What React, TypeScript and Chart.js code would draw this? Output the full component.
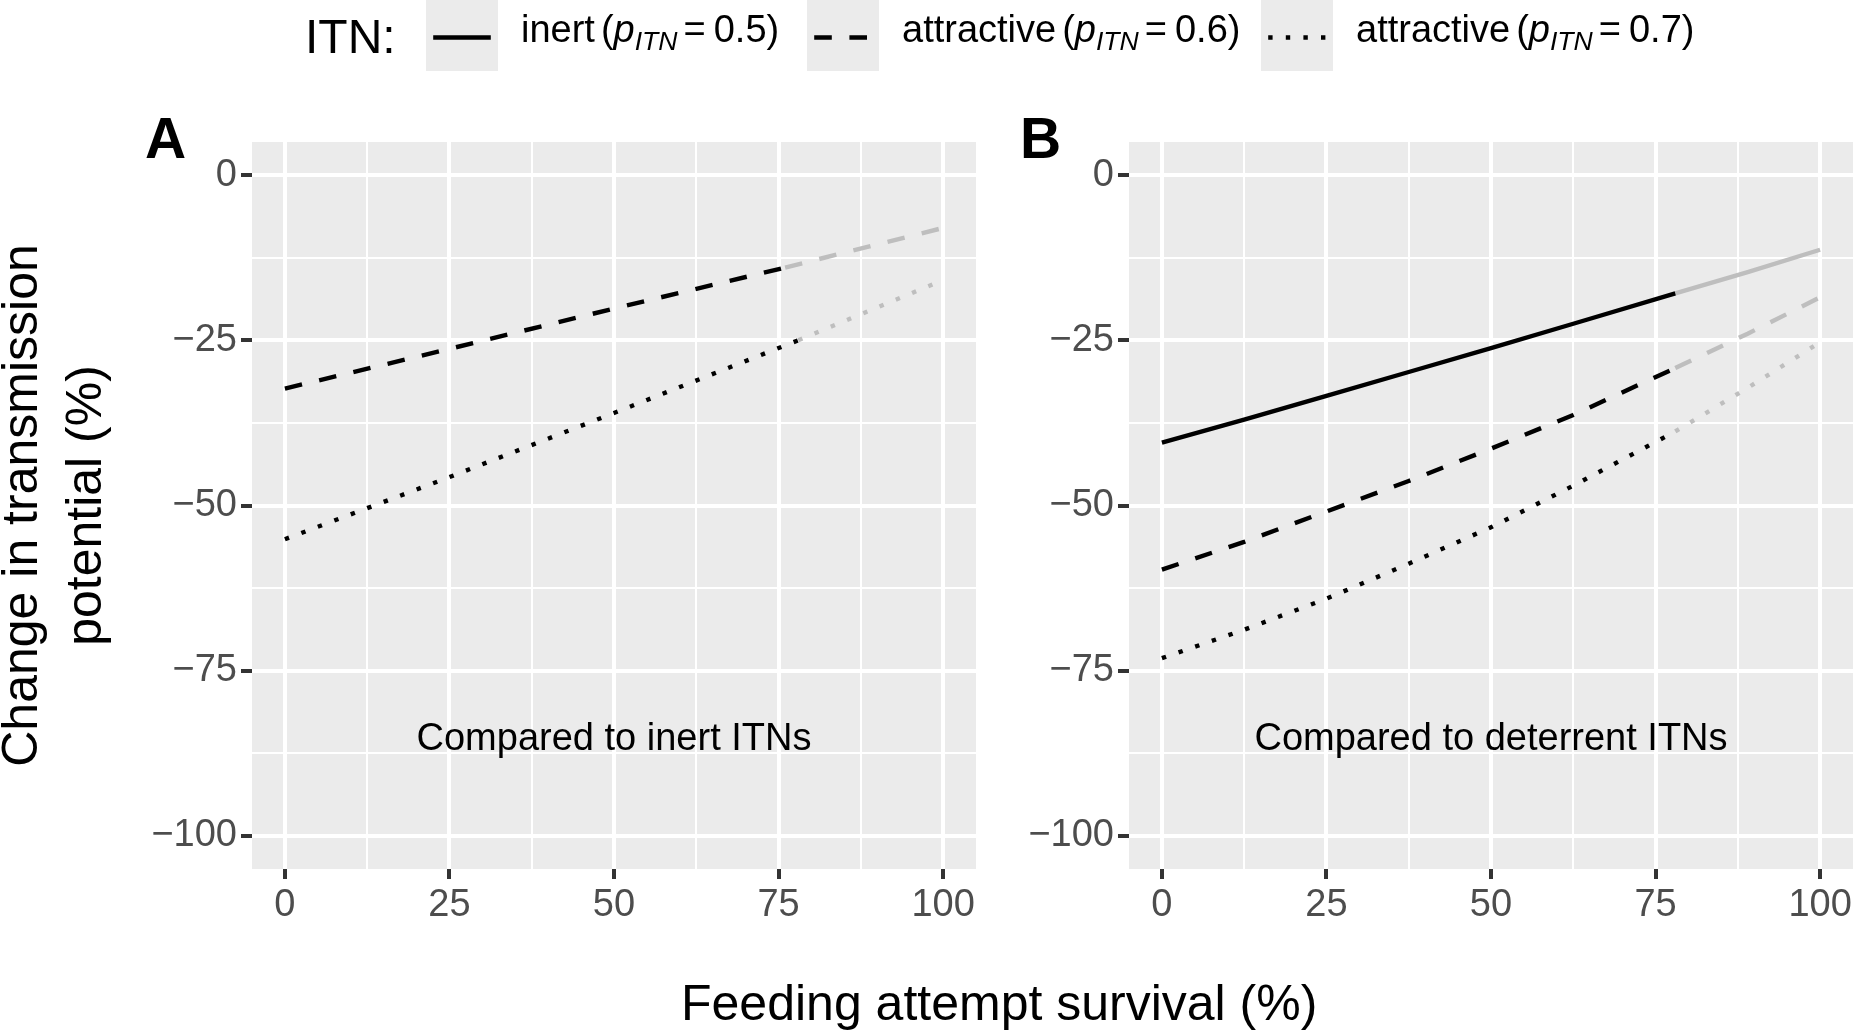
import React, { useEffect, useRef } from 'react';
import { Chart, registerables } from 'chart.js';

Chart.register(...registerables);

const FONT = '"Liberation Sans", Arial, Helvetica, sans-serif';
const TITLE_SIZE = 50;
const LEGEND_TITLE_SIZE = 48;
const SMALL_SIZE = 38;

// axes
const X_TICKS = [0, 12.5, 25, 37.5, 50, 62.5, 75, 87.5, 100];
const Y_TICKS = [-100, -87.5, -75, -62.5, -50, -37.5, -25, -12.5, 0];
const X_MIN = -5;
const X_MAX = 105;
const Y_MIN = -105;
const Y_MAX = 5;

// Panel A: compared to inert ITNs
const A_DASH_X = [0, 25, 50, 76];
const A_DASH_Y = [-32.3, -26.3, -20.2, -14.0];
const A_DASH_GREY_X = [76, 100];
const A_DASH_GREY_Y = [-14.0, -8.0];
const A_DOT_X = [0, 25, 50, 78];
const A_DOT_Y = [-55.1, -45.7, -36.0, -25.0];
const A_DOT_GREY_X = [78, 100];
const A_DOT_GREY_Y = [-25.0, -15.9];

// Panel B: compared to deterrent ITNs
const B_SOLID_X = [0, 12.5, 25, 37.5, 50, 62.5, 78];
const B_SOLID_Y = [-40.5, -37.0, -33.4, -29.8, -26.2, -22.5, -17.9];
const B_SOLID_GREY_X = [78, 89, 100];
const B_SOLID_GREY_Y = [-17.9, -14.7, -11.3];
const B_DASH_X = [0, 12.5, 25, 37.5, 50, 62.5, 78];
const B_DASH_Y = [-59.7, -55.5, -50.9, -46.3, -41.4, -36.3, -29.2];
const B_DASH_GREY_X = [78, 89, 100];
const B_DASH_GREY_Y = [-29.2, -24.0, -18.5];
const B_DOT_X = [0, 12.5, 25, 37.5, 50, 62.5, 78];
const B_DOT_Y = [-73.1, -68.8, -64.1, -58.8, -53.3, -47.0, -38.8];
const B_DOT_GREY_X = [78, 89, 100];
const B_DOT_GREY_Y = [-38.8, -32.2, -25.3];

const ANNOT_X = 50;
const ANNOT_Y = -85;

const BLACK = '#000000';
const GREY = '#BEBEBE';
const LWD = 4.4;
const DASHED = [LWD * 4, LWD * 4];
const DOTTED = [LWD, LWD * 3];

const pts = (xs: number[], ys: number[]) => xs.map((x, i) => ({ x, y: ys[i] }));

const ds = (xs: number[], ys: number[], color: string, dash: number[]) => ({
  data: pts(xs, ys),
  borderColor: color,
  borderWidth: LWD,
  borderDash: dash,
  borderCapStyle: 'butt' as const,
  pointRadius: 0,
  tension: 0,
  fill: false,
});

const isMajor = (v: number) => Math.abs(v % 25) < 1e-9;
const fmt = (v: number) => (v < 0 ? '\u2212' + Math.abs(v) : String(v));

const bgPlugin = {
  id: 'panelBg',
  beforeDraw(chart: any) {
    const { ctx, chartArea } = chart;
    const { left, top, right, bottom } = chartArea;
    ctx.save();
    ctx.fillStyle = '#EBEBEB';
    ctx.fillRect(left, top, right - left, bottom - top);
    ctx.restore();
  },
};

const makeAnnotPlugin = (text: string, letter: string, letterX: number) => ({
  id: 'annot',
  afterDatasetsDraw(chart: any) {
    const { ctx, scales } = chart;
    const px = scales.x.getPixelForValue(ANNOT_X);
    const py = scales.y.getPixelForValue(ANNOT_Y);
    ctx.save();
    ctx.fillStyle = '#000';
    ctx.font = `${SMALL_SIZE}px ${FONT}`;
    ctx.textAlign = 'center';
    ctx.textBaseline = 'alphabetic';
    ctx.fillText(text, px, py + SMALL_SIZE * 0.358);
    ctx.font = `bold 57px ${FONT}`;
    ctx.textAlign = 'left';
    ctx.fillText(letter, letterX, 158);
    ctx.restore();
  },
});

type Part = { t: string; italic?: boolean; size?: number; dy?: number; gap?: number };

const drawRich = (ctx: CanvasRenderingContext2D, x: number, y: number, parts: Part[]) => {
  let cx = x;
  for (const p of parts) {
    if (p.gap) cx += p.gap;
    if (!p.t) continue;
    const size = p.size || SMALL_SIZE;
    ctx.font = `${p.italic ? 'italic ' : ''}${size}px ${FONT}`;
    ctx.fillText(p.t, cx, y + (p.dy || 0));
    cx += ctx.measureText(p.t).width;
  }
};

const labelParts = (name: string, val: string): Part[] => [
  { t: name },
  { t: '(', gap: 6 },
  { t: 'p', italic: true },
  { t: 'ITN', italic: true, size: 26.6, dy: 8 },
  { t: '=', gap: 6 },
  { t: val + ')', gap: 8 },
];

const overlayPlugin = {
  id: 'overlay',
  afterDraw(chart: any) {
    const ctx: CanvasRenderingContext2D = chart.ctx;
    ctx.save();
    ctx.fillStyle = '#000';
    ctx.textAlign = 'left';
    ctx.textBaseline = 'alphabetic';
    // legend title
    ctx.font = `${LEGEND_TITLE_SIZE}px ${FONT}`;
    ctx.fillText('ITN:', 305, 53);
    // keys
    const keys: [number, number[]][] = [
      [426, []],
      [807, DASHED],
      [1261, DOTTED],
    ];
    keys.forEach(([left, dash]) => {
      ctx.fillStyle = '#EBEBEB';
      ctx.fillRect(left, 0, 72, 71);
      ctx.strokeStyle = '#000';
      ctx.lineWidth = LWD;
      ctx.lineCap = 'butt';
      ctx.setLineDash(dash);
      ctx.beginPath();
      ctx.moveTo(left + 7.2, 37.5);
      ctx.lineTo(left + 64.8, 37.5);
      ctx.stroke();
    });
    ctx.setLineDash([]);
    ctx.fillStyle = '#000';
    drawRich(ctx, 521, 42, labelParts('inert', '0.5'));
    drawRich(ctx, 902, 42, labelParts('attractive', '0.6'));
    drawRich(ctx, 1356, 42, labelParts('attractive', '0.7'));
    // x axis title
    ctx.font = `${TITLE_SIZE}px ${FONT}`;
    ctx.fillText('Feeding attempt survival (%)', 681, 1020);
    // y axis title (two lines, rotated)
    const cy = 505.5;
    ctx.textAlign = 'center';
    ctx.save();
    ctx.translate(37, cy);
    ctx.rotate(-Math.PI / 2);
    ctx.fillText('Change in transmission', 0, 0);
    ctx.restore();
    ctx.save();
    ctx.translate(101, cy);
    ctx.rotate(-Math.PI / 2);
    ctx.fillText('potential (%)', 0, 0);
    ctx.restore();
    ctx.restore();
  },
};

const scaleOpts = () => ({
  x: {
    type: 'linear' as const,
    min: X_MIN,
    max: X_MAX,
    afterBuildTicks: (s: any) => {
      s.ticks = X_TICKS.map((value) => ({ value }));
    },
    afterFit: (s: any) => {
      s.height = 60;
      s.paddingLeft = 0;
      s.paddingRight = 0;
    },
    ticks: {
      autoSkip: false,
      maxRotation: 0,
      minRotation: 0,
      padding: 4,
      color: '#4D4D4D',
      font: { family: FONT, size: SMALL_SIZE },
      callback: (v: any) => (isMajor(Number(v)) ? fmt(Number(v)) : ''),
    },
    grid: {
      color: '#FFFFFF',
      lineWidth: (c: any) => (c.tick && isMajor(c.tick.value) ? 4 : 2),
      tickColor: (c: any) => (c.tick && isMajor(c.tick.value) ? '#333333' : 'rgba(0,0,0,0)'),
      tickLength: 10,
      tickWidth: 4,
    },
    border: { display: false },
  },
  y: {
    type: 'linear' as const,
    min: Y_MIN,
    max: Y_MAX,
    afterBuildTicks: (s: any) => {
      s.ticks = Y_TICKS.map((value) => ({ value }));
    },
    afterFit: (s: any) => {
      s.width = 110;
      s.paddingTop = 0;
      s.paddingBottom = 0;
    },
    ticks: {
      autoSkip: false,
      padding: 4,
      color: '#4D4D4D',
      font: { family: FONT, size: SMALL_SIZE },
      callback: (v: any) => (isMajor(Number(v)) ? fmt(Number(v)) : ''),
    },
    grid: {
      color: '#FFFFFF',
      lineWidth: (c: any) => (c.tick && isMajor(c.tick.value) ? 4 : 2),
      tickColor: (c: any) => (c.tick && isMajor(c.tick.value) ? '#333333' : 'rgba(0,0,0,0)'),
      tickLength: 11,
      tickWidth: 4,
    },
    border: { display: false },
  },
});

const baseOptions = (padding: any) => ({
  responsive: false,
  animation: false as const,
  events: [] as any[],
  layout: { padding },
  plugins: { legend: { display: false }, tooltip: { enabled: false } },
  scales: scaleOpts(),
});

export default function App() {
  const refA = useRef<HTMLCanvasElement>(null);
  const refB = useRef<HTMLCanvasElement>(null);

  useEffect(() => {
    const chartA = new Chart(refA.current!, {
      type: 'line',
      data: {
        datasets: [
          ds(A_DASH_X, A_DASH_Y, BLACK, DASHED),
          ds(A_DASH_GREY_X, A_DASH_GREY_Y, GREY, DASHED),
          ds(A_DOT_X, A_DOT_Y, BLACK, DOTTED),
          ds(A_DOT_GREY_X, A_DOT_GREY_Y, GREY, DOTTED),
        ],
      },
      options: baseOptions({ left: 142, right: 1853 - 976, top: 142, bottom: 1032 - 869 - 60 }) as any,
      plugins: [bgPlugin, makeAnnotPlugin('Compared to inert ITNs', 'A', 145), overlayPlugin],
    });
    const chartB = new Chart(refB.current!, {
      type: 'line',
      data: {
        datasets: [
          ds(B_SOLID_X, B_SOLID_Y, BLACK, []),
          ds(B_SOLID_GREY_X, B_SOLID_GREY_Y, GREY, []),
          ds(B_DASH_X, B_DASH_Y, BLACK, DASHED),
          ds(B_DASH_GREY_X, B_DASH_GREY_Y, GREY, DASHED),
          ds(B_DOT_X, B_DOT_Y, BLACK, DOTTED),
          ds(B_DOT_GREY_X, B_DOT_GREY_Y, GREY, DOTTED),
        ],
      },
      options: baseOptions({ left: 1129 - 110, right: 0, top: 142, bottom: 1032 - 869 - 60 }) as any,
      plugins: [bgPlugin, makeAnnotPlugin('Compared to deterrent ITNs', 'B', 1020)],
    });
    return () => {
      chartA.destroy();
      chartB.destroy();
    };
  }, []);

  const cs: React.CSSProperties = { position: 'absolute', left: 0, top: 0, width: 1853, height: 1032 };
  return (
    <div style={{ position: 'fixed', left: 0, top: 0, width: 1853, height: 1032, background: '#FFFFFF', overflow: 'hidden' }}>
      <canvas ref={refA} width={1853} height={1032} style={cs} />
      <canvas ref={refB} width={1853} height={1032} style={cs} />
    </div>
  );
}
